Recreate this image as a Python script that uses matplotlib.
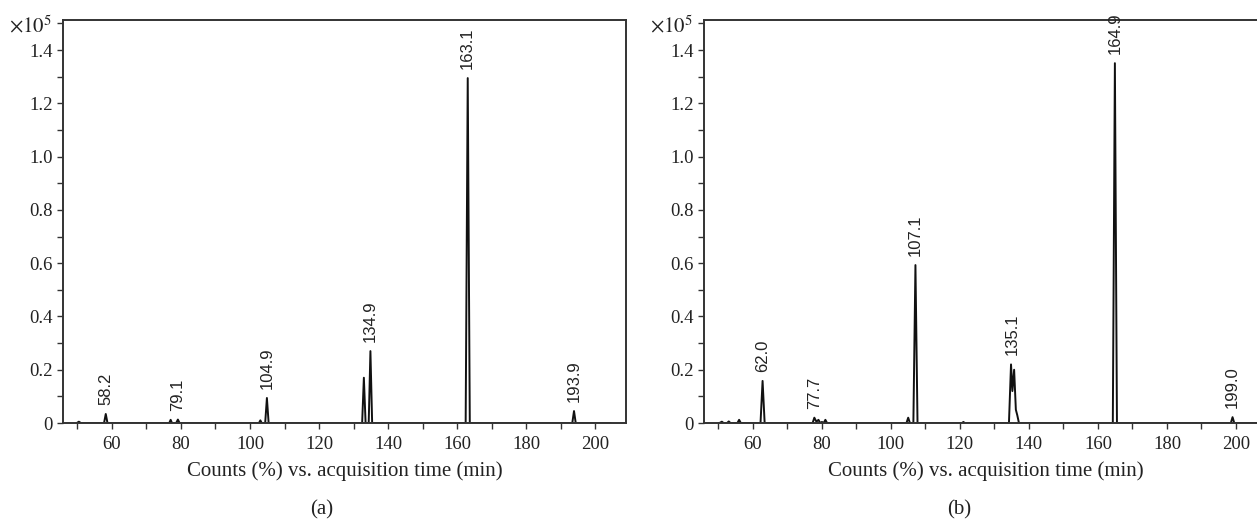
import matplotlib.pyplot as plt
from matplotlib.ticker import MultipleLocator

plt.rcParams['font.family'] = ['Liberation Serif', 'DejaVu Serif']
plt.rcParams['mathtext.fontset'] = 'stix'

# panel (a) trace
times_a = [49.8, 50.4, 51.0, 57.7, 58.2, 58.7, 76.6, 77.0, 77.4, 78.6, 79.1, 79.6,
           102.6, 103.0, 103.4, 104.4, 104.9, 105.4, 132.5, 133.0, 133.5,
           134.4, 134.9, 135.4, 162.5, 163.1, 163.7, 193.4, 193.9, 194.4, 204.5]
counts_a = [0.0, 0.005, 0.0, 0.0, 0.034, 0.0, 0.0, 0.012, 0.0, 0.0, 0.013, 0.0,
            0.0, 0.01, 0.0, 0.0, 0.094, 0.0, 0.0, 0.17, 0.0,
            0.0, 0.27, 0.0, 0.0, 1.295, 0.0, 0.0, 0.045, 0.0, 0.0]
peaks_a = [58.2, 79.1, 104.9, 134.9, 163.1, 193.9]
peak_h_a = [0.034, 0.013, 0.094, 0.27, 1.295, 0.045]

# panel (b) trace
times_b = [50.3, 51.0, 51.5, 52.5, 53.0, 53.5, 55.5, 56.0, 56.5,
           62.2, 62.8, 63.4, 77.3, 77.8, 78.4, 79.0, 79.5, 80.0, 80.5, 81.0, 81.5,
           104.5, 105.0, 105.5, 106.5, 107.1, 107.7, 120.6, 121.0, 121.4,
           134.2, 134.8, 135.2, 135.7, 136.2, 136.6, 137.1,
           164.3, 164.9, 165.5, 198.5, 199.0, 199.5, 210.0]
counts_b = [0.0, 0.005, 0.0, 0.0, 0.006, 0.0, 0.0, 0.012, 0.0,
            0.0, 0.158, 0.0, 0.0, 0.02, 0.005, 0.012, 0.0, 0.004, 0.0, 0.012, 0.0,
            0.0, 0.02, 0.0, 0.0, 0.593, 0.0, 0.0, 0.004, 0.0,
            0.0, 0.22, 0.12, 0.2, 0.05, 0.03, 0.0,
            0.0, 1.351, 0.0, 0.0, 0.022, 0.0, 0.0]
peaks_b = [62.8, 77.8, 107.1, 135.1, 164.9, 199.0]
peak_lbl_b = ['62.0', '77.7', '107.1', '135.1', '164.9', '199.0']
peak_h_b = [0.158, 0.02, 0.593, 0.22, 1.351, 0.022]

fig = plt.figure(figsize=(12.57, 5.2), dpi=100)
ax_a = fig.add_axes([0.0501, 0.1865, 0.448, 0.775])
ax_b = fig.add_axes([0.5600, 0.1865, 0.448, 0.775])


def setup(ax, t, c, px, ph, labels):
    ax.plot(t, c, color='#111111', lw=1.4)
    for x, h, s in zip(px, ph, labels):
        ax.annotate(s, (x, h), xytext=(0, 6.5), textcoords='offset points',
                    rotation=90, ha='center', va='bottom', fontsize=12,
                    family=['Liberation Sans', 'DejaVu Sans'], color='#222222')
    ax.set_xlim(45.8, 209)
    ax.set_ylim(0, 1.513)
    ax.xaxis.set_major_locator(MultipleLocator(20))
    ax.xaxis.set_minor_locator(MultipleLocator(10))
    ax.yaxis.set_minor_locator(MultipleLocator(0.1))
    ax.set_yticks([0, 0.2, 0.4, 0.6, 0.8, 1.0, 1.2, 1.4])
    ax.set_yticklabels(['0', '0.2', '0.4', '0.6', '0.8', '1.0', '1.2', '1.4'])
    ax.tick_params(which='both', direction='out', labelsize=13.5, colors='#333333',
                   labelcolor='#222222', width=1, length=4)
    ax.tick_params(axis='x', pad=5)
    for sp in ax.spines.values():
        sp.set_linewidth(1.4)
        sp.set_color('#333333')
    ax.set_xlabel('Counts (%) vs. acquisition time (min)', fontsize=15,
                  color='#222222', labelpad=6)
    ax.text(-0.02, 0.985, r'$\times10^5$', transform=ax.transAxes, ha='right',
            va='center', fontsize=15, color='#222222')


setup(ax_a, times_a, counts_a, peaks_a, peak_h_a, [f'{p:.1f}' for p in peaks_a])
setup(ax_b, times_b, counts_b, peaks_b, peak_h_b, peak_lbl_b)
ax_b.spines['right'].set_visible(False)

fig.text(322 / 1257, 1 - 510 / 520, '(a)', ha='center', va='center', fontsize=15,
         color='#222222')
fig.text(959 / 1257, 1 - 510 / 520, '(b)', ha='center', va='center', fontsize=15,
         color='#222222')

fig.savefig('out.png', dpi=100)
